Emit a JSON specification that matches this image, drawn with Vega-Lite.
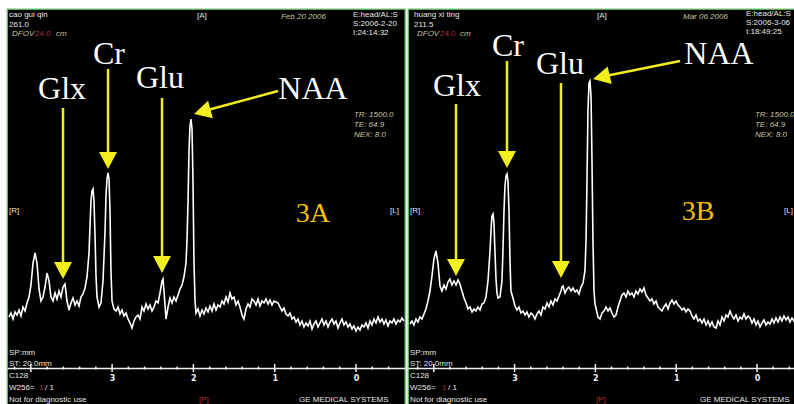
{
"$schema": "https://vega.github.io/schema/vega-lite/v6.json",
"background": "white",
"padding": {"left": 6, "top": 8, "right": 0, "bottom": 0},
"spacing": 1,
"config": {"view": {"fill": "black", "stroke": "#72c872", "strokeWidth": 1.3}},
"datasets": {
"spec": [
{"p":"A","ppm":4.268,"v":88},{"p":"A","ppm":4.244,"v":92},{"p":"A","ppm":4.219,"v":86},{"p":"A","ppm":4.194,"v":93},{"p":"A","ppm":4.170,"v":90},{"p":"A","ppm":4.145,"v":95},{"p":"A","ppm":4.121,"v":89},{"p":"A","ppm":4.096,"v":98},{"p":"A","ppm":4.071,"v":94},{"p":"A","ppm":4.047,"v":102},{"p":"A","ppm":4.022,"v":108},{"p":"A","ppm":3.998,"v":120},{"p":"A","ppm":3.973,"v":142},{"p":"A","ppm":3.948,"v":152},{"p":"A","ppm":3.924,"v":142},{"p":"A","ppm":3.899,"v":116},{"p":"A","ppm":3.875,"v":104},{"p":"A","ppm":3.850,"v":108},{"p":"A","ppm":3.825,"v":118},{"p":"A","ppm":3.801,"v":132},{"p":"A","ppm":3.776,"v":124},{"p":"A","ppm":3.752,"v":108},{"p":"A","ppm":3.727,"v":104},{"p":"A","ppm":3.702,"v":112},{"p":"A","ppm":3.678,"v":106},{"p":"A","ppm":3.653,"v":114},{"p":"A","ppm":3.629,"v":108},{"p":"A","ppm":3.604,"v":118},{"p":"A","ppm":3.579,"v":121},{"p":"A","ppm":3.555,"v":104},{"p":"A","ppm":3.530,"v":95},{"p":"A","ppm":3.506,"v":102},{"p":"A","ppm":3.481,"v":107},{"p":"A","ppm":3.456,"v":100},{"p":"A","ppm":3.432,"v":104},{"p":"A","ppm":3.407,"v":99},{"p":"A","ppm":3.383,"v":108},{"p":"A","ppm":3.358,"v":111},{"p":"A","ppm":3.333,"v":117},{"p":"A","ppm":3.309,"v":128},{"p":"A","ppm":3.284,"v":152},{"p":"A","ppm":3.272,"v":179},{"p":"A","ppm":3.260,"v":204},{"p":"A","ppm":3.247,"v":214},{"p":"A","ppm":3.235,"v":216},{"p":"A","ppm":3.223,"v":204},{"p":"A","ppm":3.210,"v":169},{"p":"A","ppm":3.198,"v":129},{"p":"A","ppm":3.186,"v":108},{"p":"A","ppm":3.161,"v":98},{"p":"A","ppm":3.137,"v":102},{"p":"A","ppm":3.112,"v":124},{"p":"A","ppm":3.087,"v":174},{"p":"A","ppm":3.075,"v":209},{"p":"A","ppm":3.063,"v":226},{"p":"A","ppm":3.050,"v":232},{"p":"A","ppm":3.038,"v":226},{"p":"A","ppm":3.026,"v":194},{"p":"A","ppm":3.014,"v":134},{"p":"A","ppm":3.001,"v":104},{"p":"A","ppm":2.977,"v":96},{"p":"A","ppm":2.952,"v":94},{"p":"A","ppm":2.927,"v":98},{"p":"A","ppm":2.903,"v":91},{"p":"A","ppm":2.878,"v":95},{"p":"A","ppm":2.854,"v":89},{"p":"A","ppm":2.829,"v":92},{"p":"A","ppm":2.804,"v":86},{"p":"A","ppm":2.780,"v":82},{"p":"A","ppm":2.755,"v":77},{"p":"A","ppm":2.731,"v":84},{"p":"A","ppm":2.706,"v":88},{"p":"A","ppm":2.681,"v":90},{"p":"A","ppm":2.657,"v":86},{"p":"A","ppm":2.632,"v":98},{"p":"A","ppm":2.608,"v":94},{"p":"A","ppm":2.583,"v":101},{"p":"A","ppm":2.558,"v":96},{"p":"A","ppm":2.534,"v":100},{"p":"A","ppm":2.509,"v":94},{"p":"A","ppm":2.485,"v":98},{"p":"A","ppm":2.460,"v":104},{"p":"A","ppm":2.435,"v":102},{"p":"A","ppm":2.411,"v":112},{"p":"A","ppm":2.386,"v":124},{"p":"A","ppm":2.374,"v":126},{"p":"A","ppm":2.362,"v":114},{"p":"A","ppm":2.337,"v":86},{"p":"A","ppm":2.312,"v":98},{"p":"A","ppm":2.288,"v":107},{"p":"A","ppm":2.263,"v":102},{"p":"A","ppm":2.239,"v":108},{"p":"A","ppm":2.214,"v":104},{"p":"A","ppm":2.189,"v":110},{"p":"A","ppm":2.165,"v":116},{"p":"A","ppm":2.140,"v":120},{"p":"A","ppm":2.116,"v":128},{"p":"A","ppm":2.091,"v":142},{"p":"A","ppm":2.079,"v":164},{"p":"A","ppm":2.066,"v":204},{"p":"A","ppm":2.054,"v":254},{"p":"A","ppm":2.042,"v":279},{"p":"A","ppm":2.030,"v":286},{"p":"A","ppm":2.017,"v":276},{"p":"A","ppm":2.005,"v":224},{"p":"A","ppm":1.993,"v":144},{"p":"A","ppm":1.980,"v":104},{"p":"A","ppm":1.968,"v":92},{"p":"A","ppm":1.943,"v":96},{"p":"A","ppm":1.919,"v":89},{"p":"A","ppm":1.894,"v":95},{"p":"A","ppm":1.870,"v":91},{"p":"A","ppm":1.845,"v":97},{"p":"A","ppm":1.820,"v":93},{"p":"A","ppm":1.796,"v":99},{"p":"A","ppm":1.771,"v":94},{"p":"A","ppm":1.747,"v":101},{"p":"A","ppm":1.722,"v":95},{"p":"A","ppm":1.697,"v":100},{"p":"A","ppm":1.673,"v":98},{"p":"A","ppm":1.648,"v":104},{"p":"A","ppm":1.624,"v":101},{"p":"A","ppm":1.599,"v":108},{"p":"A","ppm":1.574,"v":103},{"p":"A","ppm":1.550,"v":112},{"p":"A","ppm":1.525,"v":106},{"p":"A","ppm":1.501,"v":108},{"p":"A","ppm":1.476,"v":100},{"p":"A","ppm":1.451,"v":104},{"p":"A","ppm":1.427,"v":98},{"p":"A","ppm":1.402,"v":90},{"p":"A","ppm":1.378,"v":86},{"p":"A","ppm":1.353,"v":96},{"p":"A","ppm":1.328,"v":101},{"p":"A","ppm":1.304,"v":98},{"p":"A","ppm":1.279,"v":106},{"p":"A","ppm":1.255,"v":104},{"p":"A","ppm":1.230,"v":100},{"p":"A","ppm":1.205,"v":106},{"p":"A","ppm":1.181,"v":99},{"p":"A","ppm":1.156,"v":104},{"p":"A","ppm":1.132,"v":102},{"p":"A","ppm":1.107,"v":106},{"p":"A","ppm":1.082,"v":101},{"p":"A","ppm":1.058,"v":105},{"p":"A","ppm":1.033,"v":100},{"p":"A","ppm":1.009,"v":104},{"p":"A","ppm":0.984,"v":103},{"p":"A","ppm":0.959,"v":102},{"p":"A","ppm":0.935,"v":98},{"p":"A","ppm":0.910,"v":94},{"p":"A","ppm":0.886,"v":97},{"p":"A","ppm":0.861,"v":91},{"p":"A","ppm":0.836,"v":89},{"p":"A","ppm":0.812,"v":92},{"p":"A","ppm":0.787,"v":86},{"p":"A","ppm":0.763,"v":88},{"p":"A","ppm":0.738,"v":83},{"p":"A","ppm":0.713,"v":86},{"p":"A","ppm":0.689,"v":80},{"p":"A","ppm":0.664,"v":84},{"p":"A","ppm":0.640,"v":78},{"p":"A","ppm":0.615,"v":82},{"p":"A","ppm":0.590,"v":79},{"p":"A","ppm":0.566,"v":84},{"p":"A","ppm":0.541,"v":76},{"p":"A","ppm":0.517,"v":81},{"p":"A","ppm":0.492,"v":84},{"p":"A","ppm":0.467,"v":78},{"p":"A","ppm":0.443,"v":82},{"p":"A","ppm":0.418,"v":86},{"p":"A","ppm":0.394,"v":80},{"p":"A","ppm":0.369,"v":84},{"p":"A","ppm":0.344,"v":78},{"p":"A","ppm":0.320,"v":83},{"p":"A","ppm":0.295,"v":86},{"p":"A","ppm":0.271,"v":81},{"p":"A","ppm":0.246,"v":84},{"p":"A","ppm":0.221,"v":77},{"p":"A","ppm":0.197,"v":82},{"p":"A","ppm":0.172,"v":86},{"p":"A","ppm":0.148,"v":80},{"p":"A","ppm":0.123,"v":83},{"p":"A","ppm":0.098,"v":78},{"p":"A","ppm":0.074,"v":81},{"p":"A","ppm":0.049,"v":76},{"p":"A","ppm":0.025,"v":79},{"p":"A","ppm":0.000,"v":74},{"p":"A","ppm":-0.025,"v":78},{"p":"A","ppm":-0.049,"v":75},{"p":"A","ppm":-0.074,"v":80},{"p":"A","ppm":-0.098,"v":78},{"p":"A","ppm":-0.123,"v":82},{"p":"A","ppm":-0.148,"v":77},{"p":"A","ppm":-0.172,"v":84},{"p":"A","ppm":-0.197,"v":80},{"p":"A","ppm":-0.221,"v":86},{"p":"A","ppm":-0.246,"v":82},{"p":"A","ppm":-0.271,"v":88},{"p":"A","ppm":-0.295,"v":83},{"p":"A","ppm":-0.320,"v":86},{"p":"A","ppm":-0.344,"v":81},{"p":"A","ppm":-0.369,"v":85},{"p":"A","ppm":-0.394,"v":79},{"p":"A","ppm":-0.418,"v":84},{"p":"A","ppm":-0.443,"v":82},{"p":"A","ppm":-0.467,"v":86},{"p":"A","ppm":-0.492,"v":81},{"p":"A","ppm":-0.517,"v":85},{"p":"A","ppm":-0.541,"v":83},{"p":"A","ppm":-0.566,"v":87},{"p":"A","ppm":-0.590,"v":84},
{"p":"B","ppm":4.295,"v":81},{"p":"B","ppm":4.270,"v":84},{"p":"B","ppm":4.245,"v":80},{"p":"B","ppm":4.220,"v":86},{"p":"B","ppm":4.196,"v":83},{"p":"B","ppm":4.171,"v":88},{"p":"B","ppm":4.146,"v":86},{"p":"B","ppm":4.121,"v":91},{"p":"B","ppm":4.097,"v":96},{"p":"B","ppm":4.072,"v":104},{"p":"B","ppm":4.047,"v":114},{"p":"B","ppm":4.022,"v":129},{"p":"B","ppm":3.998,"v":146},{"p":"B","ppm":3.973,"v":154},{"p":"B","ppm":3.948,"v":142},{"p":"B","ppm":3.923,"v":119},{"p":"B","ppm":3.899,"v":114},{"p":"B","ppm":3.874,"v":120},{"p":"B","ppm":3.849,"v":116},{"p":"B","ppm":3.824,"v":123},{"p":"B","ppm":3.800,"v":126},{"p":"B","ppm":3.775,"v":120},{"p":"B","ppm":3.750,"v":124},{"p":"B","ppm":3.725,"v":120},{"p":"B","ppm":3.700,"v":125},{"p":"B","ppm":3.676,"v":121},{"p":"B","ppm":3.651,"v":114},{"p":"B","ppm":3.626,"v":107},{"p":"B","ppm":3.601,"v":102},{"p":"B","ppm":3.577,"v":96},{"p":"B","ppm":3.552,"v":98},{"p":"B","ppm":3.527,"v":93},{"p":"B","ppm":3.502,"v":96},{"p":"B","ppm":3.478,"v":94},{"p":"B","ppm":3.453,"v":98},{"p":"B","ppm":3.428,"v":95},{"p":"B","ppm":3.403,"v":101},{"p":"B","ppm":3.379,"v":102},{"p":"B","ppm":3.354,"v":108},{"p":"B","ppm":3.329,"v":124},{"p":"B","ppm":3.304,"v":154},{"p":"B","ppm":3.292,"v":174},{"p":"B","ppm":3.280,"v":189},{"p":"B","ppm":3.267,"v":191},{"p":"B","ppm":3.255,"v":182},{"p":"B","ppm":3.243,"v":154},{"p":"B","ppm":3.230,"v":126},{"p":"B","ppm":3.218,"v":112},{"p":"B","ppm":3.205,"v":107},{"p":"B","ppm":3.181,"v":108},{"p":"B","ppm":3.156,"v":124},{"p":"B","ppm":3.144,"v":154},{"p":"B","ppm":3.131,"v":194},{"p":"B","ppm":3.119,"v":219},{"p":"B","ppm":3.106,"v":229},{"p":"B","ppm":3.094,"v":231},{"p":"B","ppm":3.082,"v":224},{"p":"B","ppm":3.069,"v":194},{"p":"B","ppm":3.057,"v":144},{"p":"B","ppm":3.045,"v":114},{"p":"B","ppm":3.020,"v":107},{"p":"B","ppm":2.995,"v":99},{"p":"B","ppm":2.970,"v":95},{"p":"B","ppm":2.946,"v":98},{"p":"B","ppm":2.921,"v":92},{"p":"B","ppm":2.896,"v":94},{"p":"B","ppm":2.871,"v":90},{"p":"B","ppm":2.847,"v":93},{"p":"B","ppm":2.822,"v":88},{"p":"B","ppm":2.797,"v":92},{"p":"B","ppm":2.772,"v":90},{"p":"B","ppm":2.748,"v":86},{"p":"B","ppm":2.723,"v":91},{"p":"B","ppm":2.698,"v":94},{"p":"B","ppm":2.673,"v":90},{"p":"B","ppm":2.649,"v":98},{"p":"B","ppm":2.624,"v":96},{"p":"B","ppm":2.599,"v":102},{"p":"B","ppm":2.574,"v":98},{"p":"B","ppm":2.550,"v":104},{"p":"B","ppm":2.525,"v":100},{"p":"B","ppm":2.500,"v":106},{"p":"B","ppm":2.475,"v":104},{"p":"B","ppm":2.450,"v":109},{"p":"B","ppm":2.426,"v":114},{"p":"B","ppm":2.413,"v":118},{"p":"B","ppm":2.401,"v":119},{"p":"B","ppm":2.376,"v":112},{"p":"B","ppm":2.351,"v":116},{"p":"B","ppm":2.327,"v":118},{"p":"B","ppm":2.302,"v":114},{"p":"B","ppm":2.277,"v":117},{"p":"B","ppm":2.252,"v":113},{"p":"B","ppm":2.228,"v":115},{"p":"B","ppm":2.203,"v":111},{"p":"B","ppm":2.178,"v":118},{"p":"B","ppm":2.153,"v":122},{"p":"B","ppm":2.129,"v":134},{"p":"B","ppm":2.116,"v":164},{"p":"B","ppm":2.104,"v":224},{"p":"B","ppm":2.092,"v":294},{"p":"B","ppm":2.079,"v":322},{"p":"B","ppm":2.067,"v":324},{"p":"B","ppm":2.054,"v":309},{"p":"B","ppm":2.042,"v":244},{"p":"B","ppm":2.030,"v":164},{"p":"B","ppm":2.017,"v":114},{"p":"B","ppm":2.005,"v":101},{"p":"B","ppm":1.993,"v":97},{"p":"B","ppm":1.968,"v":88},{"p":"B","ppm":1.943,"v":86},{"p":"B","ppm":1.918,"v":92},{"p":"B","ppm":1.894,"v":94},{"p":"B","ppm":1.869,"v":98},{"p":"B","ppm":1.844,"v":94},{"p":"B","ppm":1.819,"v":97},{"p":"B","ppm":1.795,"v":92},{"p":"B","ppm":1.770,"v":88},{"p":"B","ppm":1.745,"v":90},{"p":"B","ppm":1.720,"v":98},{"p":"B","ppm":1.696,"v":104},{"p":"B","ppm":1.671,"v":110},{"p":"B","ppm":1.646,"v":112},{"p":"B","ppm":1.621,"v":108},{"p":"B","ppm":1.597,"v":114},{"p":"B","ppm":1.572,"v":110},{"p":"B","ppm":1.547,"v":112},{"p":"B","ppm":1.522,"v":108},{"p":"B","ppm":1.498,"v":114},{"p":"B","ppm":1.473,"v":111},{"p":"B","ppm":1.448,"v":116},{"p":"B","ppm":1.423,"v":113},{"p":"B","ppm":1.399,"v":117},{"p":"B","ppm":1.374,"v":110},{"p":"B","ppm":1.349,"v":107},{"p":"B","ppm":1.324,"v":104},{"p":"B","ppm":1.300,"v":106},{"p":"B","ppm":1.275,"v":101},{"p":"B","ppm":1.250,"v":104},{"p":"B","ppm":1.225,"v":98},{"p":"B","ppm":1.200,"v":96},{"p":"B","ppm":1.176,"v":94},{"p":"B","ppm":1.151,"v":98},{"p":"B","ppm":1.126,"v":101},{"p":"B","ppm":1.101,"v":96},{"p":"B","ppm":1.077,"v":102},{"p":"B","ppm":1.052,"v":105},{"p":"B","ppm":1.027,"v":101},{"p":"B","ppm":1.002,"v":104},{"p":"B","ppm":0.978,"v":100},{"p":"B","ppm":0.953,"v":98},{"p":"B","ppm":0.928,"v":95},{"p":"B","ppm":0.903,"v":97},{"p":"B","ppm":0.879,"v":93},{"p":"B","ppm":0.854,"v":96},{"p":"B","ppm":0.829,"v":94},{"p":"B","ppm":0.804,"v":89},{"p":"B","ppm":0.780,"v":86},{"p":"B","ppm":0.755,"v":90},{"p":"B","ppm":0.730,"v":84},{"p":"B","ppm":0.705,"v":86},{"p":"B","ppm":0.681,"v":82},{"p":"B","ppm":0.656,"v":86},{"p":"B","ppm":0.631,"v":80},{"p":"B","ppm":0.606,"v":84},{"p":"B","ppm":0.582,"v":79},{"p":"B","ppm":0.557,"v":83},{"p":"B","ppm":0.532,"v":78},{"p":"B","ppm":0.507,"v":77},{"p":"B","ppm":0.483,"v":84},{"p":"B","ppm":0.458,"v":80},{"p":"B","ppm":0.433,"v":88},{"p":"B","ppm":0.408,"v":84},{"p":"B","ppm":0.384,"v":90},{"p":"B","ppm":0.359,"v":88},{"p":"B","ppm":0.334,"v":94},{"p":"B","ppm":0.309,"v":89},{"p":"B","ppm":0.285,"v":86},{"p":"B","ppm":0.260,"v":90},{"p":"B","ppm":0.235,"v":84},{"p":"B","ppm":0.210,"v":88},{"p":"B","ppm":0.186,"v":86},{"p":"B","ppm":0.161,"v":91},{"p":"B","ppm":0.136,"v":86},{"p":"B","ppm":0.111,"v":89},{"p":"B","ppm":0.087,"v":87},{"p":"B","ppm":0.062,"v":82},{"p":"B","ppm":0.037,"v":86},{"p":"B","ppm":0.012,"v":80},{"p":"B","ppm":-0.012,"v":84},{"p":"B","ppm":-0.037,"v":78},{"p":"B","ppm":-0.062,"v":82},{"p":"B","ppm":-0.087,"v":85},{"p":"B","ppm":-0.111,"v":80},{"p":"B","ppm":-0.136,"v":83},{"p":"B","ppm":-0.161,"v":81},{"p":"B","ppm":-0.186,"v":86},{"p":"B","ppm":-0.210,"v":82},{"p":"B","ppm":-0.235,"v":87},{"p":"B","ppm":-0.260,"v":83},{"p":"B","ppm":-0.285,"v":88},{"p":"B","ppm":-0.309,"v":84},{"p":"B","ppm":-0.334,"v":89},{"p":"B","ppm":-0.359,"v":85},{"p":"B","ppm":-0.384,"v":88},{"p":"B","ppm":-0.408,"v":83},{"p":"B","ppm":-0.433,"v":87},{"p":"B","ppm":-0.458,"v":84},{"p":"B","ppm":-0.483,"v":89}
],
"arrows": [
{"p":"A","ppm":3.604,"v":297,"ppm2":3.604,"v2":141},
{"p":"A","ppm":3.050,"v":336,"ppm2":3.050,"v2":252},
{"p":"A","ppm":2.386,"v":307,"ppm2":2.386,"v2":148},
{"p":"A","ppm":0.959,"v":314,"ppm2":1.870,"v2":294},
{"p":"B","ppm":3.725,"v":301,"ppm2":3.725,"v2":144},
{"p":"B","ppm":3.094,"v":344,"ppm2":3.094,"v2":254},
{"p":"B","ppm":2.426,"v":322,"ppm2":2.426,"v2":142},
{"p":"B","ppm":0.953,"v":344,"ppm2":1.906,"v2":328.5}
],
"heads": [
{"p":"A","ppm":3.604,"v":135,"ang":0},
{"p":"A","ppm":3.050,"v":245,"ang":0},
{"p":"A","ppm":2.386,"v":141,"ang":0},
{"p":"A","ppm":1.886,"v":293.4,"ang":74.7},
{"p":"B","ppm":3.725,"v":138,"ang":0},
{"p":"B","ppm":3.094,"v":246,"ang":0},
{"p":"B","ppm":2.426,"v":136,"ang":0},
{"p":"B","ppm":1.921,"v":328,"ang":77.2}
],
"labels": [
{"p":"A","ppm":3.616,"v":306,"t":"Glx","k":"m"},
{"p":"A","ppm":3.038,"v":341,"t":"Cr","k":"m"},
{"p":"A","ppm":2.411,"v":317,"t":"Glu","k":"m"},
{"p":"A","ppm":0.529,"v":306,"t":"NAA","k":"m"},
{"p":"A","ppm":0.529,"v":183,"t":"3A","k":"f"},
{"p":"B","ppm":3.713,"v":309,"t":"Glx","k":"m"},
{"p":"B","ppm":3.082,"v":349,"t":"Cr","k":"m"},
{"p":"B","ppm":2.438,"v":331,"t":"Glu","k":"m"},
{"p":"B","ppm":0.470,"v":341,"t":"NAA","k":"m"},
{"p":"B","ppm":0.730,"v":185,"t":"3B","k":"f"}
],
"info": [
{"p":"A","ppm":4.268,"v":390,"t":"cao gui qin","k":"w"},
{"p":"A","ppm":4.268,"v":380,"t":"261.0","k":"w"},
{"p":"A","ppm":4.231,"v":371,"t":"DFOV","k":"i"},
{"p":"A","ppm":3.948,"v":371,"t":"24.0","k":"r"},
{"p":"A","ppm":3.690,"v":371,"t":"cm","k":"i"},
{"p":"A","ppm":1.956,"v":389,"t":"[A]","k":"w"},
{"p":"A","ppm":0.923,"v":388,"t":"Feb 20 2006","k":"i"},
{"p":"A","ppm":0.037,"v":390,"t":"E:head/AL:S","k":"w"},
{"p":"A","ppm":0.037,"v":381,"t":"S:2006-2-20","k":"w"},
{"p":"A","ppm":0.037,"v":372,"t":"I:24:14:32","k":"w"},
{"p":"A","ppm":0.025,"v":290,"t":"TR: 1500.0","k":"i"},
{"p":"A","ppm":0.025,"v":280,"t":"TE: 64.9","k":"i"},
{"p":"A","ppm":0.025,"v":270,"t":"NEX: 8.0","k":"i"},
{"p":"A","ppm":4.268,"v":194,"t":"[R]","k":"w"},
{"p":"A","ppm":-0.418,"v":194,"t":"[L]","k":"w"},
{"p":"A","ppm":4.268,"v":52,"t":"SP:mm","k":"w"},
{"p":"A","ppm":4.268,"v":41,"t":"ST: 20.0mm","k":"w"},
{"p":"A","ppm":4.268,"v":29,"t":"C128","k":"w"},
{"p":"A","ppm":4.268,"v":17,"t":"W256=","k":"w"},
{"p":"A","ppm":3.899,"v":17,"t":"1","k":"r"},
{"p":"A","ppm":3.825,"v":17,"t":"/ 1","k":"w"},
{"p":"A","ppm":4.268,"v":5,"t":"Not for diagnostic use","k":"w"},
{"p":"A","ppm":1.931,"v":5,"t":"[P]","k":"r"},
{"p":"A","ppm":0.701,"v":5,"t":"GE MEDICAL SYSTEMS","k":"w"},
{"p":"B","ppm":4.245,"v":390,"t":"huang xi ting","k":"w"},
{"p":"B","ppm":4.245,"v":380,"t":"211.5","k":"w"},
{"p":"B","ppm":4.208,"v":371,"t":"DFOV","k":"i"},
{"p":"B","ppm":3.923,"v":371,"t":"24.0","k":"r"},
{"p":"B","ppm":3.676,"v":371,"t":"cm","k":"i"},
{"p":"B","ppm":1.980,"v":389,"t":"[A]","k":"w"},
{"p":"B","ppm":0.916,"v":388,"t":"Mar 06 2006","k":"i"},
{"p":"B","ppm":0.136,"v":391,"t":"E:head/AL:S","k":"w"},
{"p":"B","ppm":0.136,"v":382,"t":"S:2006-3-06","k":"w"},
{"p":"B","ppm":0.136,"v":373,"t":"I:18:49:25","k":"w"},
{"p":"B","ppm":0.025,"v":290,"t":"TR: 1500.0","k":"i"},
{"p":"B","ppm":0.025,"v":280,"t":"TE: 64.9","k":"i"},
{"p":"B","ppm":0.025,"v":270,"t":"NEX: 8.0","k":"i"},
{"p":"B","ppm":4.295,"v":194,"t":"[R]","k":"w"},
{"p":"B","ppm":-0.335,"v":194,"t":"[L]","k":"w"},
{"p":"B","ppm":4.295,"v":52,"t":"SP:mm","k":"w"},
{"p":"B","ppm":4.295,"v":41,"t":"ST: 20.0mm","k":"w"},
{"p":"B","ppm":4.295,"v":29,"t":"C128","k":"w"},
{"p":"B","ppm":4.295,"v":17,"t":"W256=","k":"w"},
{"p":"B","ppm":3.898,"v":17,"t":"1","k":"r"},
{"p":"B","ppm":3.824,"v":17,"t":"/ 1","k":"w"},
{"p":"B","ppm":4.295,"v":5,"t":"Not for diagnostic use","k":"w"},
{"p":"B","ppm":1.993,"v":5,"t":"[P]","k":"r"},
{"p":"B","ppm":0.705,"v":5,"t":"GE MEDICAL SYSTEMS","k":"w"}
],
"ticks": [
{"ppm":0,"v":33,"v2":41},{"ppm":1,"v":33,"v2":41},{"ppm":2,"v":33,"v2":41},{"ppm":3,"v":33,"v2":41},{"ppm":4,"v":33,"v2":41},
{"ppm":-0.4,"v":35.5,"v2":38.5},{"ppm":-0.2,"v":35.5,"v2":38.5},{"ppm":0.2,"v":35.5,"v2":38.5},{"ppm":0.4,"v":35.5,"v2":38.5},{"ppm":0.6,"v":35.5,"v2":38.5},{"ppm":0.8,"v":35.5,"v2":38.5},{"ppm":1.2,"v":35.5,"v2":38.5},{"ppm":1.4,"v":35.5,"v2":38.5},{"ppm":1.6,"v":35.5,"v2":38.5},{"ppm":1.8,"v":35.5,"v2":38.5},{"ppm":2.2,"v":35.5,"v2":38.5},{"ppm":2.4,"v":35.5,"v2":38.5},{"ppm":2.6,"v":35.5,"v2":38.5},{"ppm":2.8,"v":35.5,"v2":38.5},{"ppm":3.2,"v":35.5,"v2":38.5},{"ppm":3.4,"v":35.5,"v2":38.5},{"ppm":3.6,"v":35.5,"v2":38.5},{"ppm":3.8,"v":35.5,"v2":38.5},{"ppm":4.2,"v":35.5,"v2":38.5}
]
},
"hconcat": [
{
"width": 398, "height": 396,
"encoding": {
"x": {"field": "ppm", "type": "quantitative", "scale": {"domain": [-0.603, 4.293], "reverse": true, "nice": false, "zero": false},
"axis": {"title": null, "values": [0, 1, 2, 3, 4], "offset": -37, "grid": false, "ticks": false, "tickSize": 0, "domainColor": "#f0f0f0", "domainWidth": 1.5, "labelColor": "#f0f0f0", "labelFont": "DejaVu Sans", "labelFontSize": 8, "labelFontWeight": "bold", "labelPadding": 6, "labelExpr": "datum.value == 4 ? '' : datum.label"}},
"y": {"field": "v", "type": "quantitative", "scale": {"domain": [0, 396], "nice": false, "zero": false}, "axis": null}
},
"layer": [
{"data": {"name": "ticks"}, "mark": {"type": "rule", "color": "#f0f0f0", "strokeWidth": 1.5}, "encoding": {"y2": {"field": "v2"}}},
{"data": {"name": "spec"}, "transform": [{"filter": "datum.p == 'A'"}], "mark": {"type": "line", "color": "white", "strokeWidth": 1.6, "clip": true}, "encoding": {}},
{"data": {"name": "arrows"}, "transform": [{"filter": "datum.p == 'A'"}], "mark": {"type": "rule", "color": "#F2EE1E", "strokeWidth": 2.5}, "encoding": {"x2": {"field": "ppm2"}, "y2": {"field": "v2"}}},
{"data": {"name": "heads"}, "transform": [{"filter": "datum.p == 'A'"}], "mark": {"type": "point", "shape": "M-1,-0.9L1,-0.9L0,1Z", "size": 324, "filled": true, "opacity": 1, "color": "#F2EE1E", "strokeWidth": 0}, "encoding": {"angle": {"field": "ang", "type": "quantitative", "scale": null}}},
{"data": {"name": "labels"}, "transform": [{"filter": "datum.p == 'A' && datum.k == 'm'"}], "mark": {"type": "text", "font": "Liberation Serif", "fontSize": 32, "color": "white", "align": "center", "baseline": "alphabetic"}, "encoding": {"text": {"field": "t"}}},
{"data": {"name": "labels"}, "transform": [{"filter": "datum.p == 'A' && datum.k == 'f'"}], "mark": {"type": "text", "font": "Liberation Serif", "fontSize": 28, "color": "#F5C000", "align": "center", "baseline": "alphabetic"}, "encoding": {"text": {"field": "t"}}},
{"data": {"name": "info"}, "transform": [{"filter": "datum.p == 'A' && datum.k == 'w'"}], "mark": {"type": "text", "font": "Liberation Sans", "fontSize": 8, "color": "#e6e6e6", "align": "left", "baseline": "middle", "clip": true}, "encoding": {"text": {"field": "t"}}},
{"data": {"name": "info"}, "transform": [{"filter": "datum.p == 'A' && datum.k == 'i'"}], "mark": {"type": "text", "font": "Liberation Sans", "fontSize": 8, "fontStyle": "italic", "color": "#c9c3a0", "align": "left", "baseline": "middle", "clip": true}, "encoding": {"text": {"field": "t"}}},
{"data": {"name": "info"}, "transform": [{"filter": "datum.p == 'A' && datum.k == 'r'"}], "mark": {"type": "text", "font": "Liberation Sans", "fontSize": 8, "color": "#b03030", "align": "left", "baseline": "middle", "clip": true}, "encoding": {"text": {"field": "t"}}}
]
},
{
"width": 389, "height": 396,
"encoding": {
"x": {"field": "ppm", "type": "quantitative", "scale": {"domain": [-0.495, 4.319], "reverse": true, "nice": false, "zero": false},
"axis": {"title": null, "values": [0, 1, 2, 3, 4], "offset": -37, "grid": false, "ticks": false, "tickSize": 0, "domainColor": "#f0f0f0", "domainWidth": 1.5, "labelColor": "#f0f0f0", "labelFont": "DejaVu Sans", "labelFontSize": 8, "labelFontWeight": "bold", "labelPadding": 6, "labelExpr": "datum.value == 4 ? '' : datum.label"}},
"y": {"field": "v", "type": "quantitative", "scale": {"domain": [0, 396], "nice": false, "zero": false}, "axis": null}
},
"layer": [
{"data": {"name": "ticks"}, "mark": {"type": "rule", "color": "#f0f0f0", "strokeWidth": 1.5}, "encoding": {"y2": {"field": "v2"}}},
{"data": {"name": "spec"}, "transform": [{"filter": "datum.p == 'B'"}], "mark": {"type": "line", "color": "white", "strokeWidth": 1.6, "clip": true}, "encoding": {}},
{"data": {"name": "arrows"}, "transform": [{"filter": "datum.p == 'B'"}], "mark": {"type": "rule", "color": "#F2EE1E", "strokeWidth": 2.5}, "encoding": {"x2": {"field": "ppm2"}, "y2": {"field": "v2"}}},
{"data": {"name": "heads"}, "transform": [{"filter": "datum.p == 'B'"}], "mark": {"type": "point", "shape": "M-1,-0.9L1,-0.9L0,1Z", "size": 324, "filled": true, "opacity": 1, "color": "#F2EE1E", "strokeWidth": 0}, "encoding": {"angle": {"field": "ang", "type": "quantitative", "scale": null}}},
{"data": {"name": "labels"}, "transform": [{"filter": "datum.p == 'B' && datum.k == 'm'"}], "mark": {"type": "text", "font": "Liberation Serif", "fontSize": 32, "color": "white", "align": "center", "baseline": "alphabetic"}, "encoding": {"text": {"field": "t"}}},
{"data": {"name": "labels"}, "transform": [{"filter": "datum.p == 'B' && datum.k == 'f'"}], "mark": {"type": "text", "font": "Liberation Serif", "fontSize": 28, "color": "#F5C000", "align": "center", "baseline": "alphabetic"}, "encoding": {"text": {"field": "t"}}},
{"data": {"name": "info"}, "transform": [{"filter": "datum.p == 'B' && datum.k == 'w'"}], "mark": {"type": "text", "font": "Liberation Sans", "fontSize": 8, "color": "#e6e6e6", "align": "left", "baseline": "middle", "clip": true}, "encoding": {"text": {"field": "t"}}},
{"data": {"name": "info"}, "transform": [{"filter": "datum.p == 'B' && datum.k == 'i'"}], "mark": {"type": "text", "font": "Liberation Sans", "fontSize": 8, "fontStyle": "italic", "color": "#c9c3a0", "align": "left", "baseline": "middle", "clip": true}, "encoding": {"text": {"field": "t"}}},
{"data": {"name": "info"}, "transform": [{"filter": "datum.p == 'B' && datum.k == 'r'"}], "mark": {"type": "text", "font": "Liberation Sans", "fontSize": 8, "color": "#b03030", "align": "left", "baseline": "middle", "clip": true}, "encoding": {"text": {"field": "t"}}}
]
}
]
}
